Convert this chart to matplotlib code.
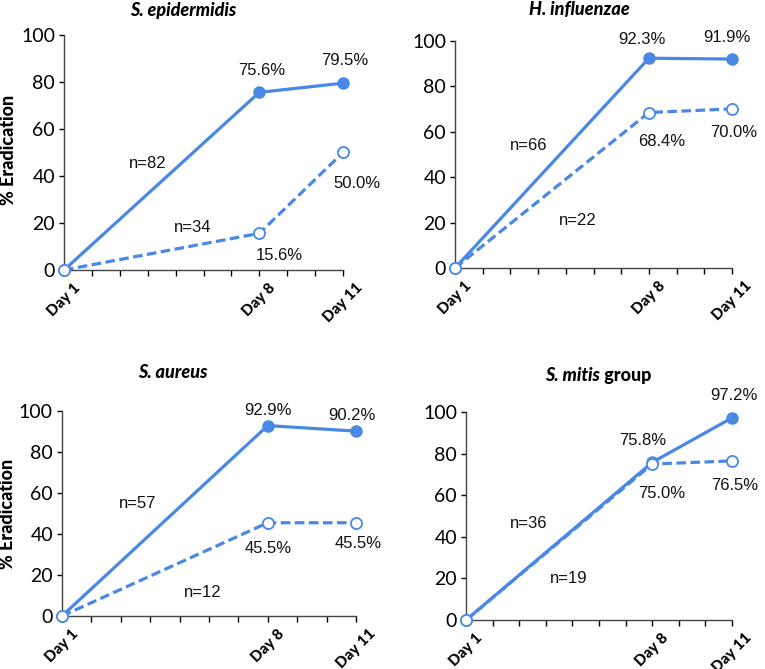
"""Eradication rates over time for four species, two patient groups each."""

import matplotlib.pyplot as plt

OUTPUT_NAME = "out.png"
BLUE = "#4a88e6"

DAYS = [1, 8, 11]
TICK_DAYS = list(range(1, 12))
TICK_LABELS = ["Day 1", "", "", "", "", "", "", "Day 8", "", "", "Day 11"]

TITLES = ["S. epidermidis", "H. influenzae", "S. aureus", "S. mitis"]
SOLID_VALUES = [
    [0, 75.6, 79.5],
    [0, 92.3, 91.9],
    [0, 92.9, 90.2],
    [0, 75.8, 97.2],
]
DASHED_VALUES = [
    [0, 15.6, 50.0],
    [0, 68.4, 70.0],
    [0, 45.5, 45.5],
    [0, 75.0, 76.5],
]
SOLID_N = [82, 66, 57, 36]
DASHED_N = [34, 22, 12, 19]

# (left, bottom, width, height) in figure fraction
AX_RECTS = [
    (0.0837, 0.5964, 0.3647, 0.3513),
    (0.5948, 0.5994, 0.3621, 0.3398),
    (0.0810, 0.0792, 0.3843, 0.3064),
    (0.6092, 0.0732, 0.3477, 0.3109),
]
TITLE_POS = [(0.427, 1.106), (0.448, 1.135), (0.378, 1.19), (0.40, 1.178)]

# label positions in data coordinates: solid day 8, solid day 11,
# dashed day 8, dashed day 11, solid n, dashed n
LABEL_POS = [
    [(8.1, 85), (11.05, 89), (8.7, 6), (11.5, 37), (4.0, 45.5), (5.6, 18)],
    [(7.75, 100.6), (10.8, 101.3), (8.47, 55.6), (11.07, 59.8), (3.67, 54), (5.44, 21)],
    [(8.0, 100.5), (10.86, 97.6), (8.0, 32.7), (11.07, 35.6), (3.58, 55), (5.8, 11.7)],
    [(7.65, 86.5), (11.07, 107.8), (8.37, 61), (11.1, 64.6), (3.37, 46.6), (4.87, 20)],
]
YLABEL_POS = {0: (-0.168, 0.51), 2: (-0.156, 0.50)}

TICK_FONT = "Lato"
NUM_FONT = "Liberation Sans"


def draw_panel(fig, i):
    ax = fig.add_axes(AX_RECTS[i])
    ax.plot(DAYS, SOLID_VALUES[i], color=BLUE, lw=2.3, marker="o", ms=8,
            mfc=BLUE, mec=BLUE, clip_on=False, zorder=3)
    ax.plot(DAYS, DASHED_VALUES[i], color=BLUE, lw=2.3, dashes=(3, 1.4),
            marker="o", ms=8, mfc="white", mec=BLUE, mew=1.3,
            clip_on=False, zorder=4)

    pos = LABEL_POS[i]
    labels = [f"{SOLID_VALUES[i][1]:.1f}%", f"{SOLID_VALUES[i][2]:.1f}%",
              f"{DASHED_VALUES[i][1]:.1f}%", f"{DASHED_VALUES[i][2]:.1f}%",
              f"n={SOLID_N[i]}", f"n={DASHED_N[i]}"]
    for (x, y), text in zip(pos, labels):
        ax.text(x, y, text, ha="center", va="center", fontsize=12,
                family=NUM_FONT, color="#111111")

    ax.set_xlim(1, 11)
    ax.set_ylim(0, 100)
    ax.set_yticks(range(0, 101, 20))
    ax.set_xticks(TICK_DAYS)
    ax.set_xticklabels(TICK_LABELS, rotation=45, ha="center",
                       fontsize=11, fontweight="black", family=TICK_FONT)
    ax.tick_params(axis="x", length=4.5, width=1, pad=3)
    ax.tick_params(axis="y", length=3.5, width=1, labelsize=14, pad=3)
    for lab in ax.get_yticklabels():
        lab.set_family(TICK_FONT)
    for side in ("top", "right"):
        ax.spines[side].set_visible(False)
    for side in ("left", "bottom"):
        ax.spines[side].set_color("#444444")
        ax.spines[side].set_linewidth(1.0)

    tx, ty = TITLE_POS[i]
    if i == 3:
        t = ax.text(tx, ty, TITLES[i], transform=ax.transAxes, ha="center",
                    va="center", fontsize=13, fontweight="black",
                    fontstyle="italic", family=TICK_FONT)
        ax.annotate(" group", xy=(1, 0.5), xycoords=t, ha="left", va="center",
                    fontsize=13, fontweight="black", family=TICK_FONT)
    else:
        ax.text(tx, ty, TITLES[i], transform=ax.transAxes, ha="center",
                va="center", fontsize=13, fontweight="black",
                fontstyle="italic", family=TICK_FONT)

    if i in YLABEL_POS:
        ax.set_ylabel("% Eradication", fontsize=13, fontweight="black",
                      family=TICK_FONT)
        ax.yaxis.set_label_coords(*YLABEL_POS[i])
    return ax


def main() -> None:
    fig = plt.figure(figsize=(7.65, 6.69), dpi=100)
    for i in range(4):
        draw_panel(fig, i)
    fig.savefig(OUTPUT_NAME, dpi=100)


if __name__ == "__main__":
    main()
